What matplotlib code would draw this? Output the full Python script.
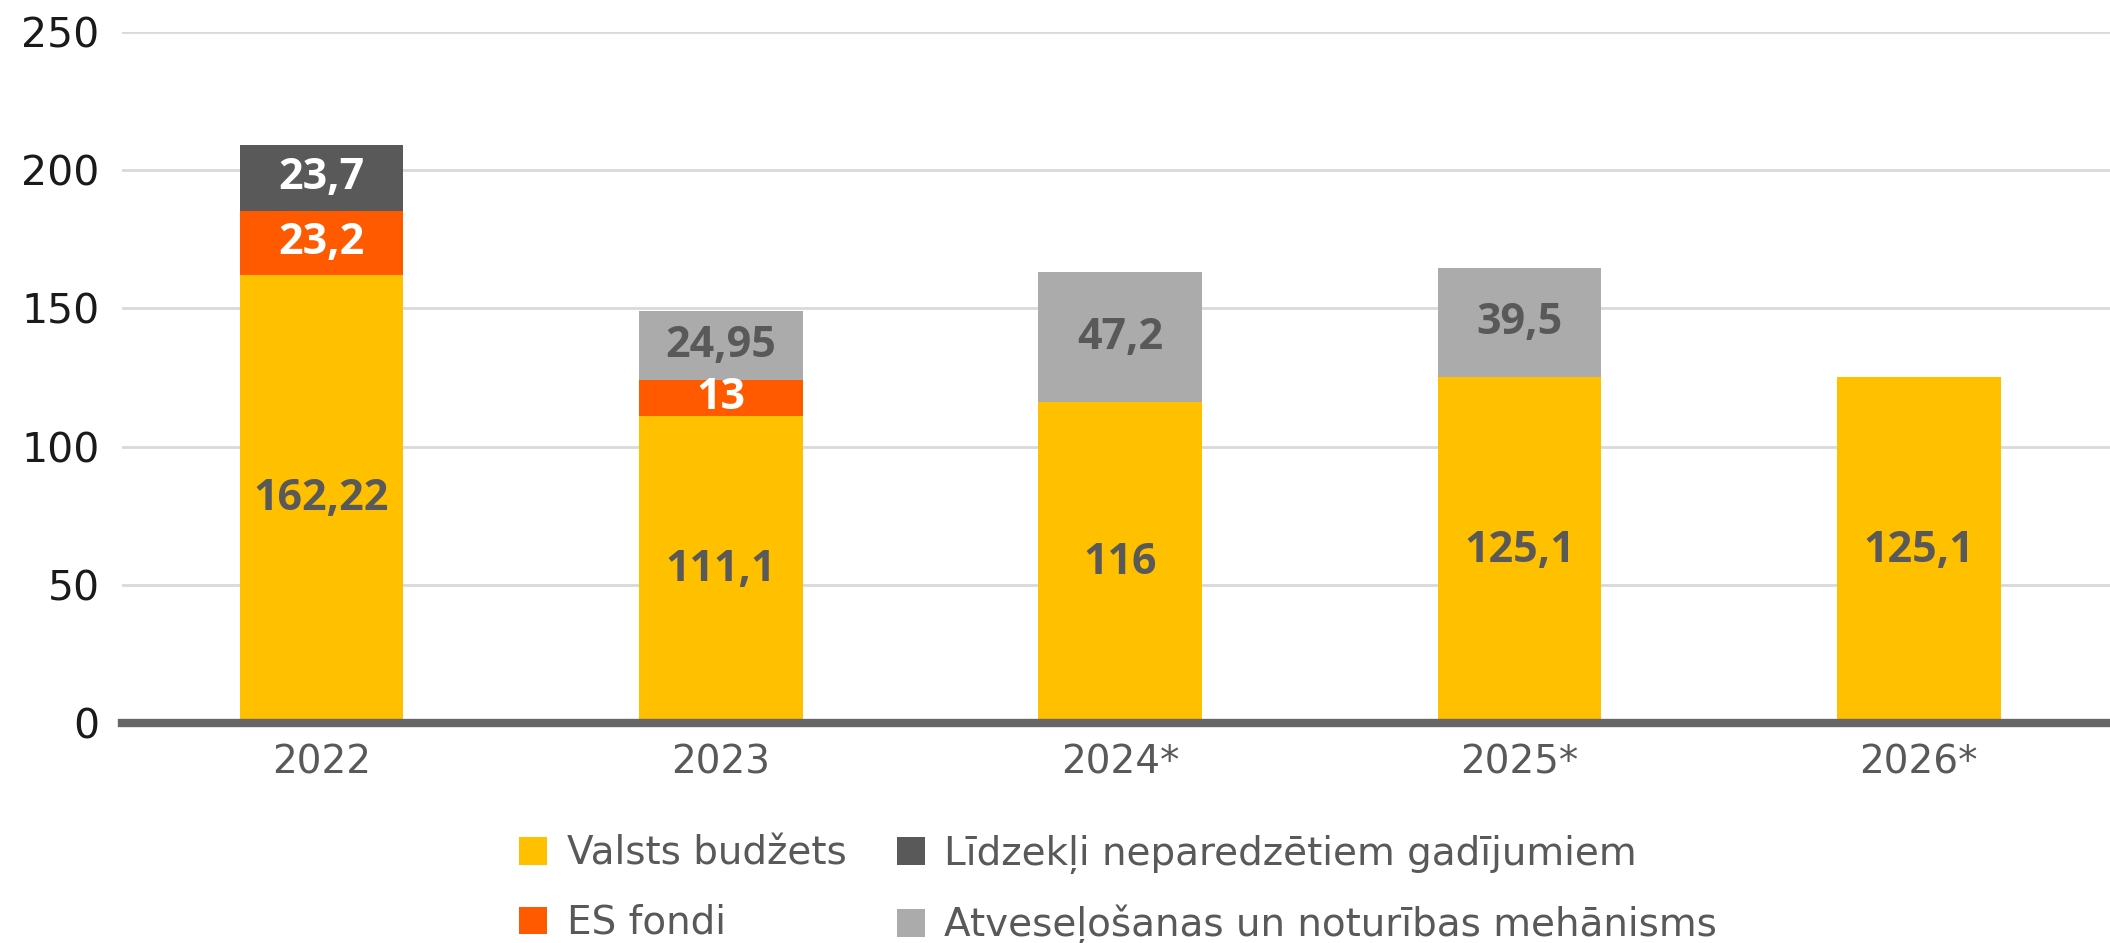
import matplotlib
matplotlib.use("Agg")
import matplotlib.pyplot as plt
from matplotlib.patches import Patch

plt.rcParams['font.family'] = ['DejaVu Sans']

years = ["2022", "2023", "2024*", "2025*", "2026*"]
valsts = [162.22, 111.1, 116, 125.1, 125.1]
es_fondi = [23.2, 13, 0, 0, 0]
lidzekli = [23.7, 0, 0, 0, 0]
atveselosanas = [0, 24.95, 47.2, 39.5, 0]

series_names = ["Valsts budžets", "ES fondi",
                "Līdzekļi neparedzētiem gadījumiem",
                "Atveseļošanas un noturības mehānisms"]
colors = ["#FFC000", "#FF5A00", "#595959", "#ABABAB"]
label_colors = ["#595959", "white", "white", "#595959"]
yticks = [0, 50, 100, 150, 200, 250]

fig = plt.figure(figsize=(21.10, 9.43), dpi=100)
ax = fig.add_axes([0.0578, 0.2333, 0.9422 + 0.004, 0.966 - 0.2333])

x = list(range(len(years)))
bottoms = [0.0] * len(years)
data = [valsts, es_fondi, lidzekli, atveselosanas]
for vals, col, lcol in zip(data, colors, label_colors):
    ax.bar(x, vals, bottom=bottoms, width=0.41, color=col, zorder=3)
    for xi, v, b in zip(x, vals, bottoms):
        if v > 0:
            txt = f"{v:g}".replace(".", ",")
            ax.text(xi, b + v / 2, txt, ha="center", va="center",
                    fontsize=31, fontweight="bold", color=lcol, zorder=4,
                    family=["Open Sans", "DejaVu Sans"])
    bottoms = [b + v for b, v in zip(bottoms, vals)]

ax.set_xlim(-0.5, len(years) - 0.5)
ax.set_ylim(0, 250)
ax.set_yticks(yticks)
ax.set_yticklabels([str(t) for t in yticks], fontsize=29.5, color="#1a1a1a")
ax.set_xticks(x)
ax.set_xticklabels(years, fontsize=28, color="#595959")
ax.tick_params(axis="y", length=0, pad=16)
ax.tick_params(axis="x", length=0, pad=15)
ax.grid(axis="y", color="#D9D9D9", linewidth=2, zorder=0)
for s in ["top", "right", "left"]:
    ax.spines[s].set_visible(False)
ax.spines["bottom"].set_color("#666666")
ax.spines["bottom"].set_linewidth(6)
ax.spines["bottom"].set_zorder(5)

handles = [Patch(facecolor=c) for c in colors]
fig.legend(handles, series_names, loc="center", bbox_to_anchor=(0.530, 0.056),
           ncol=2, frameon=False, fontsize=28, labelcolor="#595959",
           handlelength=0.72, handleheight=0.72, handletextpad=0.5,
           columnspacing=1.3, labelspacing=0.8)

fig.savefig("out.png", dpi=100)
